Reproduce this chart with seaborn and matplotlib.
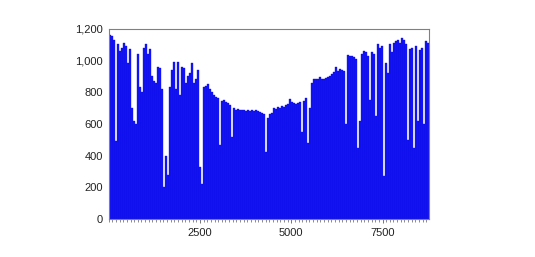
import matplotlib
matplotlib.use("Agg")
import matplotlib.pyplot as plt
import matplotlib.ticker as mticker
import numpy as np
import pandas as pd
import seaborn as sns

# Load values, aggregated into 160 consecutive bins over 8760 hours
values_a = [1160, 1150, 1130, 490, 1100, 1060, 1080, 1110, 1090, 980,
            1070, 700, 620, 600, 1040, 830, 800, 1080, 1100, 1040,
            1070, 900, 870, 860, 960, 950, 820, 200, 400, 280,
            830, 940, 990, 820, 990, 780, 960, 950, 860, 900]
values_b = [920, 980, 860, 880, 940, 330, 220, 830, 840, 850,
            820, 800, 780, 770, 760, 470, 745, 750, 735, 730,
            720, 520, 700, 690, 695, 690, 685, 690, 680, 690,
            680, 685, 680, 690, 680, 675, 670, 660, 420, 640]
values_c = [660, 670, 700, 695, 705, 700, 710, 705, 720, 725,
            755, 735, 730, 725, 730, 735, 550, 745, 765, 480,
            700, 860, 880, 885, 880, 895, 880, 885, 890, 895,
            900, 915, 925, 960, 930, 945, 940, 930, 600, 1035]
values_d = [1030, 1025, 1020, 1010, 450, 615, 1040, 1060, 1050, 1030,
            750, 1050, 1040, 650, 1105, 1080, 1090, 270, 980, 920,
            1100, 1050, 1110, 1120, 1125, 1110, 1140, 1125, 1100, 500,
            1070, 1080, 450, 1090, 620, 1065, 1075, 600, 1120, 1110]
values = values_a + values_b + values_c + values_d

total_hours = 8760
bin_width = total_hours / len(values)
hours = [bin_width * (i + 0.5) for i in range(len(values))]

df = pd.DataFrame({"hour": hours, "load": values})

fig = plt.figure(figsize=(5.35, 2.57), dpi=100)
ax = fig.add_axes([0.203, 0.147, 0.598, 0.742])

sns.barplot(data=df, x="hour", y="load", native_scale=True, width=1.0,
            color="#1414ff", saturation=1, edgecolor="#0a0ad0", linewidth=0.25,
            ax=ax, errorbar=None)

ax.set_xlim(0, total_hours)
ax.set_ylim(0, 1200)
ax.set_xlabel("")
ax.set_ylabel("")
ax.xaxis.set_major_locator(mticker.FixedLocator([2500, 5000, 7500]))
ax.xaxis.set_major_formatter(mticker.FuncFormatter(lambda v, p: f"{int(v)}"))
ax.xaxis.set_minor_locator(mticker.MultipleLocator(100))
ax.yaxis.set_major_locator(mticker.MultipleLocator(200))
ax.yaxis.set_major_formatter(mticker.FuncFormatter(lambda v, p: f"{int(v):,}"))

for s in ax.spines.values():
    s.set_color("#808080")
    s.set_linewidth(0.8)

ax.tick_params(axis="x", which="major", length=3, width=0.6, color="#606060",
               labelsize=8, pad=3)
ax.tick_params(axis="x", which="minor", length=2, width=0.5, color="#606060")
ax.tick_params(axis="y", which="major", length=0, labelsize=8, pad=4)
for lab in ax.get_xticklabels() + ax.get_yticklabels():
    lab.set_fontfamily(["Liberation Sans", "DejaVu Sans"])
    lab.set_color("#222222")

fig.savefig("out.png", dpi=100)
